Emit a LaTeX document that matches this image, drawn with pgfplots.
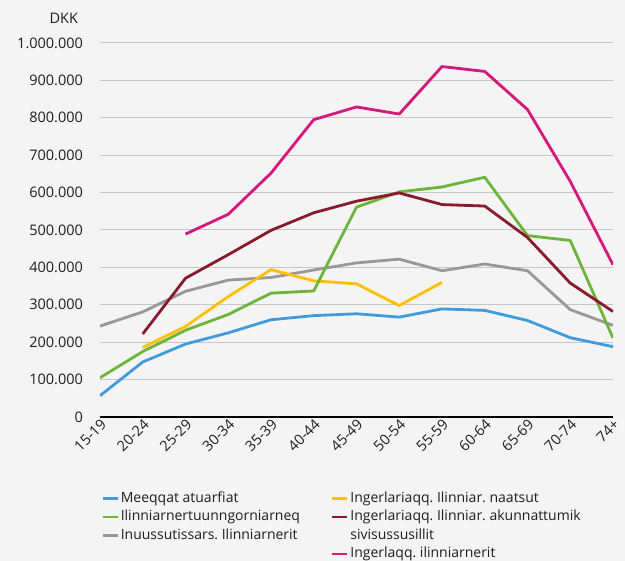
\documentclass[border=0pt]{standalone}
\usepackage{pgfplots}
\pgfplotsset{compat=1.18}
\usepackage{fontspec}
\setmainfont{Open Sans}
\definecolor{cblue}{RGB}{64,155,220}
\definecolor{cgreen}{RGB}{109,181,58}
\definecolor{cgray}{RGB}{152,152,152}
\definecolor{cyellow}{RGB}{255,192,0}
\definecolor{cdred}{RGB}{136,26,44}
\definecolor{cpink}{RGB}{214,23,122}
\definecolor{bgcol}{RGB}{244,244,244}
\definecolor{txt}{RGB}{30,30,30}
\begin{document}
\frenchspacing
\fontsize{14.5}{17}\selectfont
\begin{tikzpicture}
\fill[bgcol] (0,0) rectangle (625pt,561pt);
\path[use as bounding box] (0,0) rectangle (625pt,561pt);
\begin{axis}[
  name=ax,
  at={(100pt,144pt)}, anchor=south west,
  scale only axis, width=513pt, height=374pt,
  xmin=0, xmax=12, ymin=0, ymax=1000000,
  xtick={0,...,12},
  xticklabels={15-19,20-24,25-29,30-34,35-39,40-44,45-49,50-54,55-59,60-64,65-69,70-74,74+},
  ytick={0,100000,...,1000000},
  scaled y ticks=false,
  /pgf/number format/.cd, 1000 sep={.}, fixed, assume math mode=true,
  /pgfplots/.cd,
  major tick length=0pt,
  axis x line*=bottom, axis y line*=left,
  y axis line style={draw=none},
  x axis line style={black, line width=1.6pt, -},
  ymajorgrids, grid style={draw=gray!45, line width=1pt},
  tick label style={font=\fontsize{14.5}{17}\selectfont, text=txt},
  yticklabel style={anchor=east, xshift=-12pt},
  xticklabel style={rotate=45, anchor=east, xshift=4pt, yshift=-6pt},
  every axis plot/.append style={line width=2.8pt, line join=round, mark=none},
  legend image code/.code={\draw[#1, line width=2.6pt] (0pt,0pt) -- (15pt,0pt);},
  legend columns=2,
  legend cell align=left,
  legend style={at={(0,0)}, anchor=north west, xshift=-2pt, yshift=-70pt,
    draw=none, fill=none, font=\fontsize{14}{17}\selectfont, text=txt,
    nodes={inner sep=2pt, text height=11pt, text depth=3.5pt},
    row sep=0pt,
    /tikz/column 2/.style={column sep=8pt}},
]
\addplot[cgray, forget plot] coordinates {(0,243000)(1,281000)(2,336000)(3,366000)(4,373000)(5,393000)(6,412000)(7,422000)(8,391000)(9,409000)(10,391000)(11,287000)(12,245000)};
\addplot[cblue, forget plot] coordinates {(0,57000)(1,147000)(2,195000)(3,225000)(4,260000)(5,271000)(6,276000)(7,267000)(8,289000)(9,285000)(10,258000)(11,212000)(12,188000)};
\addplot[cyellow, forget plot] coordinates {(1,186000)(2,242000)(3,322000)(4,394000)(5,364000)(6,356000)(7,298000)(8,360000)};
\addplot[cgreen, forget plot] coordinates {(0,105000)(1,175000)(2,232000)(3,274000)(4,331000)(5,337000)(6,561000)(7,602000)(8,615000)(9,641000)(10,485000)(11,472000)(12,211000)};
\addplot[cdred, forget plot] coordinates {(1,222000)(2,371000)(3,434000)(4,499000)(5,546000)(6,577000)(7,599000)(8,568000)(9,564000)(10,480000)(11,358000)(12,282000)};
\addplot[cpink, forget plot] coordinates {(2,489000)(3,542000)(4,652000)(5,795000)(6,829000)(7,810000)(8,937000)(9,924000)(10,822000)(11,630000)(12,407000)};
\addlegendimage{cblue}\addlegendentry{Meeqqat atuarfiat}
\addlegendimage{cyellow}\addlegendentry{Ingerlariaqq. Ilinniar. naatsut}
\addlegendimage{cgreen}\addlegendentry{\makebox[200pt][l]{Ilinniarnertuunngorniarneq}}
\addlegendimage{cdred}\addlegendentry{Ingerlariaqq. Ilinniar. akunnattumik}
\addlegendimage{cgray}\addlegendentry{Inuussutissars. Ilinniarnerit}
\addlegendimage{empty legend}\addlegendentry{sivisussusillit}
\addlegendimage{empty legend}\addlegendentry{}
\addlegendimage{cpink}\addlegendentry{Ingerlaqq. ilinniarnerit}
\end{axis}
\node[anchor=east, text=txt, font=\fontsize{14.5}{17}\selectfont] at ([xshift=-17pt, yshift=25pt]ax.north west) {DKK};
\end{tikzpicture}
\end{document}
